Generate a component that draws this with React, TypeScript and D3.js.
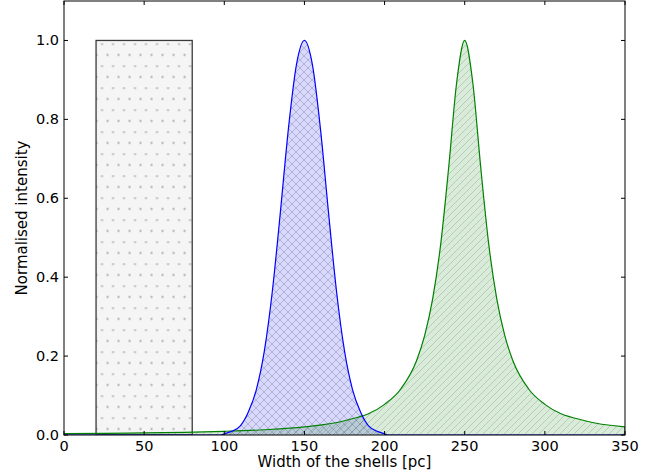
import React from "react";
import * as d3 from "d3";

// ---- data ----
const boxX = [20, 80];
const boxHeight = 1.0;

const blueX = [0, 98, 100, 105, 110, 115, 120, 125, 130, 135, 140, 145, 150, 155, 160, 165, 170, 175, 180, 185, 190, 195, 200, 202, 350];
const blueY = [0, 0, 0.003, 0.01, 0.023, 0.058, 0.115, 0.213, 0.365, 0.565, 0.776, 0.938, 1.0, 0.938, 0.776, 0.565, 0.365, 0.213, 0.115, 0.058, 0.023, 0.01, 0.003, 0, 0];

const greenX = [0, 25, 50, 75, 100, 125, 150, 175, 200, 210, 220, 225, 230, 235, 240, 245, 250, 255, 260, 265, 270, 275, 280, 290, 300, 325, 350];
const greenY = [0.0034, 0.0041, 0.0052, 0.0068, 0.0093, 0.0133, 0.0206, 0.036, 0.0776, 0.116, 0.189, 0.252, 0.345, 0.483, 0.678, 0.894, 1.0, 0.894, 0.678, 0.483, 0.345, 0.252, 0.189, 0.116, 0.0776, 0.036, 0.0206];

const xTicks = [0, 50, 100, 150, 200, 250, 300, 350];
const yTicks = [0.0, 0.2, 0.4, 0.6, 0.8, 1.0];
const xLabel = "Width of the shells [pc]";
const yLabel = "Normalised intensity";

const W = 661;
const H = 474;
const M = { left: 64, right: 36, top: 1, bottom: 39 };

export default function App() {
  const x = d3.scaleLinear().domain([0, 350]).range([M.left, W - M.right]);
  const y = d3.scaleLinear().domain([0, 1.1]).range([H - M.bottom, M.top]);

  const blue = blueX.map((v, i) => [v, blueY[i]] as [number, number]);
  const green = greenX.map((v, i) => [v, greenY[i]] as [number, number]);

  const area = d3
    .area<[number, number]>()
    .x((d) => x(d[0]))
    .y0(y(0))
    .y1((d) => y(d[1]))
    .curve(d3.curveMonotoneX);
  const line = d3
    .line<[number, number]>()
    .x((d) => x(d[0]))
    .y((d) => y(d[1]))
    .curve(d3.curveMonotoneX);

  const font = "'DejaVu Sans', sans-serif";
  const x0 = M.left, x1 = W - M.right, y0 = H - M.bottom, y1 = M.top;
  const cs = 8; // crosshatch spacing
  const ds = 7; // diagonal hatch spacing

  return (
    <svg
      width={W}
      height={H}
      style={{ position: "absolute", left: 0, top: 0, background: "#fff" }}
      fontFamily={font}
    >
      <defs>
        <clipPath id="plot">
          <rect x={x0} y={y1} width={x1 - x0} height={y0 - y1} />
        </clipPath>
        <pattern id="dots" patternUnits="userSpaceOnUse" width={11} height={22} x={x(boxX[0]) + 0.5} y={y(boxHeight) + 3}>
          <circle cx={5.5} cy={0.5} r={1.1} fill="#a0a0a0" />
          <circle cx={0} cy={11.5} r={1.1} fill="#a0a0a0" />
          <circle cx={11} cy={11.5} r={1.1} fill="#a0a0a0" />
        </pattern>
        <pattern id="cross" patternUnits="userSpaceOnUse" width={cs} height={cs}>
          <path d={`M-1,${cs + 1} L${cs + 1},-1 M-1,-1 L${cs + 1},${cs + 1}`} stroke="#000" strokeOpacity={0.18} strokeWidth={1} />
        </pattern>
        <pattern id="diag" patternUnits="userSpaceOnUse" width={ds} height={ds}>
          <path d={`M-1,${ds + 1} L${ds + 1},-1 M-1,1 L1,-1 M${ds - 1},${ds + 1} L${ds + 1},${ds - 1}`} stroke="#000" strokeOpacity={0.14} strokeWidth={1} />
        </pattern>
      </defs>

      <g clipPath="url(#plot)">
        {/* top-hat box */}
        <rect
          x={x(boxX[0])}
          y={y(boxHeight)}
          width={x(boxX[1]) - x(boxX[0])}
          height={y(0) - y(boxHeight)}
          fill="#f5f5f5"
        />
        <rect
          x={x(boxX[0])}
          y={y(boxHeight)}
          width={x(boxX[1]) - x(boxX[0])}
          height={y(0) - y(boxHeight)}
          fill="url(#dots)"
          stroke="#3a3a3a"
          strokeWidth={1.3}
        />
        {/* blue gaussian */}
        <path d={area(blue) || ""} fill="#0000ff" fillOpacity={0.15} />
        <path d={area(blue) || ""} fill="url(#cross)" />
        {/* green lorentzian */}
        <path d={area(green) || ""} fill="#008000" fillOpacity={0.15} />
        <path d={area(green) || ""} fill="url(#diag)" />
        <path d={line(green) || ""} fill="none" stroke="#008000" strokeWidth={1.2} />
        <path d={line(blue) || ""} fill="none" stroke="#0000ff" strokeWidth={1.2} />
        <line x1={x(350)} x2={x(350)} y1={y(0)} y2={y(greenY[greenY.length - 1])} stroke="#008000" strokeWidth={1.2} />
      </g>

      {/* frame */}
      <rect x={x0} y={y1} width={x1 - x0} height={y0 - y1} fill="none" stroke="#000" strokeWidth={1} />

      {/* ticks */}
      {xTicks.map((t) => (
        <g key={"x" + t}>
          <line x1={x(t)} x2={x(t)} y1={y0} y2={y0 - 4} stroke="#000" />
          <line x1={x(t)} x2={x(t)} y1={y1} y2={y1 + 4} stroke="#000" />
          <text x={x(t)} y={y0 + 16} fontSize={14.5} textAnchor="middle" fill="#000">
            {t}
          </text>
        </g>
      ))}
      {yTicks.map((t) => (
        <g key={"y" + t}>
          <line x1={x0} x2={x0 + 4} y1={y(t)} y2={y(t)} stroke="#000" />
          <line x1={x1} x2={x1 - 4} y1={y(t)} y2={y(t)} stroke="#000" />
          <text x={x0 - 5} y={y(t) + 5} fontSize={14.5} textAnchor="end" fill="#000">
            {t.toFixed(1)}
          </text>
        </g>
      ))}

      <text x={(x0 + x1) / 2} y={H - 7} fontSize={15} textAnchor="middle" fill="#000">
        {xLabel}
      </text>
      <text
        transform={`translate(${27},${(y0 + y1) / 2}) rotate(-90)`}
        fontSize={15}
        textAnchor="middle"
        fill="#000"
      >
        {yLabel}
      </text>
    </svg>
  );
}
